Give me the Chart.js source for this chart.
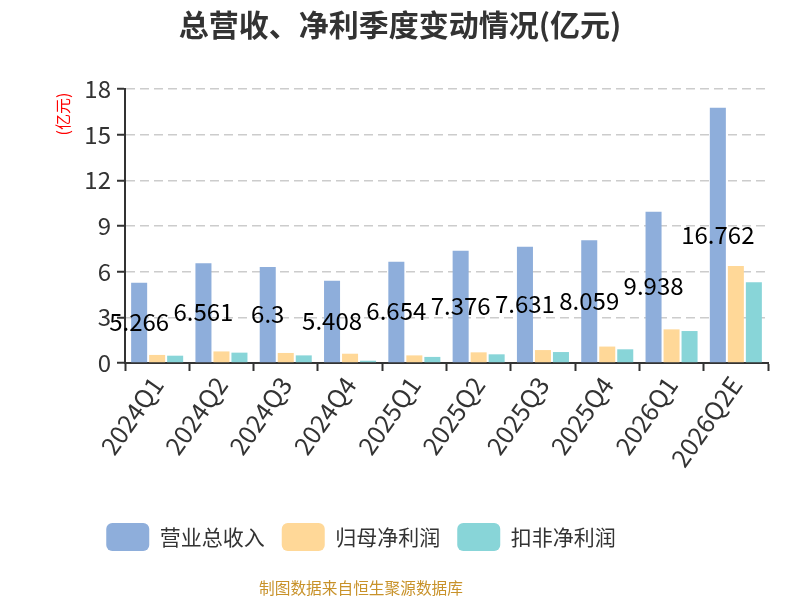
<!DOCTYPE html>
<html><head><meta charset="utf-8">
<script src="https://cdn.jsdelivr.net/npm/chart.js@4"></script>
<style>html,body{margin:0;padding:0;background:#fff}#wrap{width:800px;height:600px}</style>
</head><body><div id="wrap"><canvas id="c" width="800" height="600"></canvas></div>
<script>
const categories = ['2024Q1','2024Q2','2024Q3','2024Q4','2025Q1','2025Q2','2025Q3','2025Q4','2026Q1','2026Q2E'];
const revenue = [5.266,6.561,6.3,5.408,6.654,7.376,7.631,8.059,9.938,16.762];
const netProfit = [0.53,0.76,0.66,0.61,0.50,0.70,0.85,1.08,2.21,6.37];
const deductedProfit = [0.48,0.68,0.50,0.15,0.40,0.57,0.72,0.90,2.10,5.30];
const yTicks = [0,3,6,9,12,15,18];
const seriesNames = ['营业总收入','归母净利润','扣非净利润'];
const FONT = '"Noto Sans CJK SC","Noto Sans",sans-serif';

const extras = {
  id:'extras',
  afterLayout(chart){
    if (chart.legend) { chart.legend.left = 0; chart.legend.right = 722; }
    if (chart.titleBlock) { chart.titleBlock.left = 0; chart.titleBlock.right = 800; }
  },
  afterDatasetsDraw(chart){
    const {ctx, scales:{y}} = chart;
    const meta = chart.getDatasetMeta(0);
    ctx.save();
    ctx.font = '24px ' + FONT;
    ctx.fillStyle = '#000';
    ctx.textAlign = 'center';
    ctx.textBaseline = 'middle';
    revenue.forEach((v,i)=>{
      ctx.fillText(String(v), meta.data[i].x, y.getPixelForValue(v/2) - 1);
    });
    ctx.restore();
  },
  afterDraw(chart){
    const {ctx} = chart;
    ctx.save();
    ctx.font = '16px ' + FONT;
    ctx.fillStyle = '#ff0000';
    ctx.textAlign = 'center';
    ctx.textBaseline = 'middle';
    ctx.translate(63, 114);
    ctx.rotate(-Math.PI/2);
    ctx.fillText('(亿元)', 0, 0);
    ctx.restore();
    ctx.save();
    ctx.font = '15.7px ' + FONT;
    ctx.fillStyle = '#c8922a';
    ctx.textAlign = 'center';
    ctx.textBaseline = 'middle';
    ctx.fillText('制图数据来自恒生聚源数据库', 361, 588);
    ctx.restore();
  }
};

new Chart(document.getElementById('c'), {
  type:'bar',
  data:{
    labels: categories,
    datasets:[
      {label:seriesNames[0], data:revenue, backgroundColor:'#8eaedb'},
      {label:seriesNames[1], data:netProfit, backgroundColor:'#ffd898'},
      {label:seriesNames[2], data:deductedProfit, backgroundColor:'#88d5d8'}
    ]
  },
  options:{
    responsive:false,
    animation:false,
    devicePixelRatio:1,
    layout:{padding:{left:0,right:32,top:0,bottom:39}},
    datasets:{bar:{categoryPercentage:0.84,barPercentage:0.89}},
    plugins:{
      title:{display:true,text:'总营收、净利季度变动情况(亿元)',color:'#333',
        font:{family:FONT,size:30,weight:'bold'},padding:{top:7,bottom:46}},
      legend:{position:'bottom',
        labels:{boxWidth:43,boxHeight:28,useBorderRadius:true,borderRadius:6,
          padding:17,color:'#333',font:{family:FONT,size:21}}},
      tooltip:{enabled:false}
    },
    scales:{
      x:{
        afterFit(s){ s.height = 143; },
        grid:{display:true,drawOnChartArea:false,drawTicks:true,tickLength:8,tickColor:'#333',tickWidth:2,offset:true},
        border:{display:true,color:'#333',width:2},
        ticks:{color:'#333',font:{family:FONT,size:25},minRotation:55,maxRotation:55,padding:0}
      },
      y:{
        min:0,max:18,
        afterFit(s){ s.width = 125; },
        afterBuildTicks(s){ s.ticks = yTicks.map(v=>({value:v})); },
        grid:{color:'#cccccc',lineWidth:1.5,drawTicks:true,tickLength:8,tickColor:'#333',tickWidth:2,tickBorderDash:[]},
        border:{display:true,color:'#333',width:2,dash:[9,5]},
        ticks:{color:'#333',font:{family:FONT,size:24},padding:6}
      }
    }
  },
  plugins:[extras]
});
</script>
</body></html>
